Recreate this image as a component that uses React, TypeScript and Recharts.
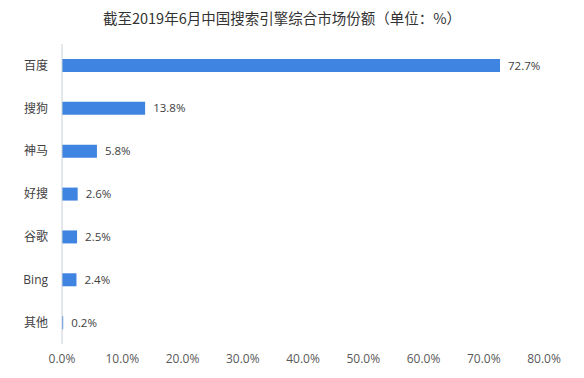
import { Bar, BarChart, LabelList, XAxis, YAxis } from 'recharts'

const engines = ['百度', '搜狗', '神马', '好搜', '谷歌', 'Bing', '其他']
const shares = [72.7, 13.8, 5.8, 2.6, 2.5, 2.4, 0.2]
const xTicks = [0, 10, 20, 30, 40, 50, 60, 70, 80]

const data = engines.map((name, i) => ({ name, share: shares[i] }))

const font = '"Open Sans", "Noto Sans CJK SC", sans-serif'

export default function App() {
  return (
    <div style={{ position: 'relative', width: 584, height: 378, background: '#fff', fontFamily: font }}>
      <style>{'body{margin:0}'}</style>
      <div
        style={{
          position: 'absolute',
          top: 7,
          left: 0,
          width: 564,
          textAlign: 'center',
          fontSize: 14.5,
          color: '#333',
          fontFamily: '"Noto Sans CJK SC", sans-serif',
        }}
      >
        截至2019年6月中国搜索引擎综合市场份额（单位：%）
      </div>
      <BarChart
        width={584}
        height={378}
        data={data}
        layout="vertical"
        margin={{ top: 44, right: 40, bottom: 0, left: 0 }}
      >
        <XAxis
          type="number"
          domain={[0, 80]}
          ticks={xTicks}
          tickFormatter={(v: number) => `${v.toFixed(1)}%`}
          axisLine={false}
          tickLine={false}
          tickMargin={4}
          height={34}
          tick={{ fill: '#595959', fontSize: 12, fontFamily: font }}
          interval={0}
        />
        <YAxis
          type="category"
          dataKey="name"
          width={62}
          axisLine={{ stroke: '#c8d0da' }}
          tickLine={false}
          tickSize={0}
          tickMargin={14}
          tick={{ fill: '#404040', fontSize: 12, fontFamily: font }}
        />
        <Bar dataKey="share" fill="#3f84e0" barSize={13} isAnimationActive={false}>
          <LabelList
            dataKey="share"
            position="right"
            offset={8}
            formatter={(v: number) => `${v}%`}
            style={{ fill: '#404040', fontSize: 11.5, fontFamily: font }}
          />
        </Bar>
      </BarChart>
    </div>
  )
}
